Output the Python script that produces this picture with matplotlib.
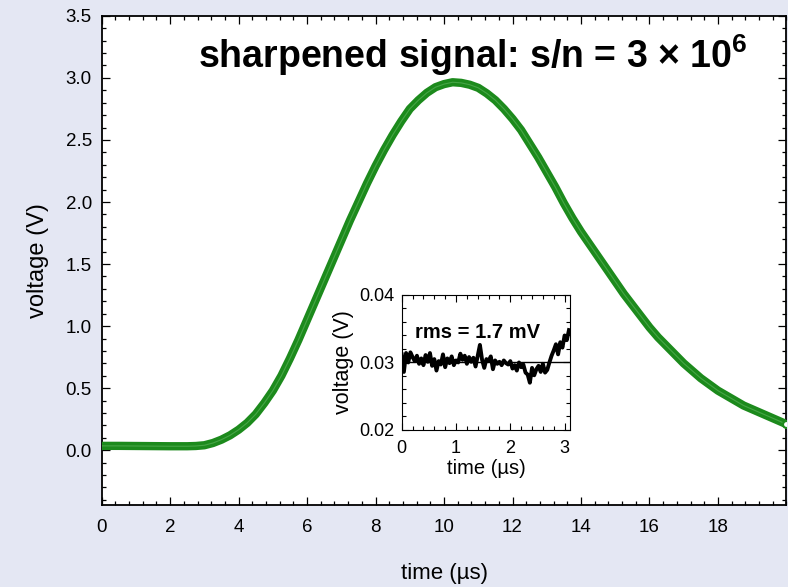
"""
Sharpened signal plot with noise inset
"""

import matplotlib
matplotlib.use('Agg')
import matplotlib.pyplot as plt
from matplotlib.ticker import MultipleLocator

plt.rcParams['font.family'] = ['Liberation Sans', 'DejaVu Sans']
plt.rcParams['mathtext.fontset'] = 'custom'
plt.rcParams['mathtext.rm'] = 'Liberation Sans:bold'

# ---- data ----
time_us = [0.0, 0.5, 1.0, 1.5, 2.0, 2.5, 2.75, 3.0, 3.25, 3.5, 3.75,
           4.0, 4.25, 4.5, 4.75, 5.0, 5.25, 5.5, 5.75, 6.0, 6.25,
           6.5, 6.75, 7.0, 7.25, 7.5, 7.75, 8.0, 8.25, 8.5, 8.75,
           9.0, 9.25, 9.5, 9.75, 10.0, 10.25, 10.5, 10.75, 11.0, 11.25,
           11.5, 11.75, 12.0, 12.25, 12.5, 12.75, 13.0, 13.25, 13.5, 13.75,
           14.0, 14.25, 14.5, 14.75, 15.0, 15.25, 15.5, 15.75, 16.0, 16.25,
           16.5, 16.75, 17.0, 17.25, 17.5, 17.75, 18.0, 18.25, 18.5, 18.75,
           19.0, 19.25, 19.5, 19.75, 20.0]
voltage = [0.035, 0.035, 0.034, 0.033, 0.032, 0.032, 0.034, 0.040, 0.058, 0.085, 0.12,
           0.165, 0.22, 0.29, 0.38, 0.48, 0.60, 0.74, 0.89, 1.05, 1.21,
           1.37, 1.53, 1.69, 1.85, 2.00, 2.15, 2.29, 2.42, 2.54, 2.65,
           2.75, 2.82, 2.88, 2.925, 2.95, 2.965, 2.96, 2.945, 2.92, 2.875,
           2.82, 2.75, 2.67, 2.58, 2.47, 2.36, 2.24, 2.12, 1.99, 1.87,
           1.76, 1.66, 1.56, 1.46, 1.36, 1.26, 1.17, 1.08, 0.99, 0.91,
           0.84, 0.77, 0.70, 0.64, 0.58, 0.53, 0.48, 0.44, 0.40, 0.36,
           0.33, 0.30, 0.27, 0.24, 0.21]

noise_t = [0.00, 0.04, 0.08, 0.12, 0.16, 0.20, 0.24, 0.28, 0.32, 0.36,
           0.40, 0.44, 0.48, 0.52, 0.56, 0.60, 0.64, 0.68, 0.72, 0.76,
           0.80, 0.84, 0.88, 0.92, 0.96, 1.00, 1.04, 1.08, 1.12, 1.16,
           1.20, 1.24, 1.28, 1.32, 1.36, 1.40, 1.44, 1.48, 1.52, 1.56,
           1.60, 1.64, 1.68, 1.72, 1.76, 1.80, 1.84, 1.88, 1.92, 1.96,
           2.00, 2.04, 2.08, 2.12, 2.16, 2.20, 2.24, 2.28, 2.32, 2.36,
           2.40, 2.44, 2.48, 2.52, 2.56, 2.60, 2.64, 2.68, 2.72, 2.76,
           2.80, 2.84, 2.88, 2.92, 2.96, 3.00, 3.04, 3.08]
noise_v = [0.0312, 0.0286, 0.0314, 0.0300, 0.0315, 0.0308, 0.0302, 0.0310, 0.0298, 0.0306,
           0.0296, 0.0311, 0.0301, 0.0314, 0.0295, 0.0305, 0.0288, 0.0302, 0.0297, 0.0312,
           0.0293, 0.0306, 0.0299, 0.0309, 0.0296, 0.0303, 0.0300, 0.0313, 0.0304, 0.0310,
           0.0298, 0.0308, 0.0301, 0.0307, 0.0294, 0.0310, 0.0326, 0.0304, 0.0292, 0.0305,
           0.0302, 0.0309, 0.0290, 0.0303, 0.0298, 0.0301, 0.0296, 0.0303, 0.0299, 0.0297,
           0.0302, 0.0291, 0.0296, 0.0288, 0.0300, 0.0293, 0.0297, 0.0285, 0.0282, 0.0270,
           0.0292, 0.0281, 0.0290, 0.0295, 0.0286, 0.0298, 0.0285, 0.0289, 0.0300, 0.0310,
           0.0318, 0.0327, 0.0312, 0.0330, 0.0322, 0.0340, 0.0333, 0.0348]

BG = '#E4E7F3'
GREEN = '#1C8A1C'

fig = plt.figure(figsize=(7.88, 5.87), dpi=100)
fig.patch.set_facecolor(BG)

# ---- main axes ----
ax = fig.add_axes([0.129, 0.140, 0.869, 0.833])
ax.plot(time_us, voltage, color=GREEN, lw=6, solid_capstyle='round',
        solid_joinstyle='round', zorder=3)
ax.plot(time_us, voltage, color='#6FC06F', lw=0.8, alpha=0.5, zorder=4)
ax.plot(time_us[-1], voltage[-1], 'o', ms=5, mfc='white', mec=GREEN, mew=1.5, zorder=5)

ax.set_xlim(0, 20)
ax.set_ylim(-0.44, 3.5)
ax.xaxis.set_minor_locator(MultipleLocator(0.4))
ax.yaxis.set_minor_locator(MultipleLocator(0.1))
ax.set_xticks([0, 2, 4, 6, 8, 10, 12, 14, 16, 18])
ax.set_yticks([0.0, 0.5, 1.0, 1.5, 2.0, 2.5, 3.0, 3.5])
ax.set_yticklabels(['0.0', '0.5', '1.0', '1.5', '2.0', '2.5', '3.0', '3.5'])
ax.tick_params(which='both', direction='in', top=True, right=True, width=0.9)
ax.tick_params(which='major', length=6)
ax.tick_params(which='minor', length=3)
ax.tick_params(axis='x', which='major', pad=10, labelsize=13.5)
ax.tick_params(axis='y', which='major', pad=7, labelsize=13.5)
for sp in ax.spines.values():
    sp.set_linewidth(1.3)

ax.set_xlabel('time (µs)', fontsize=16, labelpad=20)
ax.set_ylabel('voltage (V)', fontsize=17, labelpad=12)

fig.text(0.251, 0.884, 'sharpened signal: s/n = 3 × 10$^{6}$',
         fontsize=27, fontweight='bold', ha='left', va='baseline')

# ---- inset ----
ins = fig.add_axes([0.5098, 0.2675, 0.2136, 0.2300])
ins.plot(noise_t, noise_v, color='black', lw=2.8, zorder=3)
ins.axhline(0.03, color='black', lw=1.0, zorder=2)
ins.set_xlim(0, 3.1)
ins.set_ylim(0.02, 0.04)
ins.set_xticks([0, 1, 2, 3])
ins.set_yticks([0.02, 0.03, 0.04])
ins.xaxis.set_minor_locator(MultipleLocator(0.2))
ins.yaxis.set_minor_locator(MultipleLocator(0.002))
ins.tick_params(which='both', direction='in', top=True, right=True, width=0.8,
                labelsize=13)
ins.tick_params(axis='x', which='major', pad=7)
ins.tick_params(axis='y', which='major', pad=5)
ins.tick_params(which='major', length=5)
ins.tick_params(which='minor', length=3)
ins.set_xlabel('time (µs)', fontsize=14.5, labelpad=2)
ins.set_ylabel('voltage (V)', fontsize=15.5, labelpad=4)
ins.text(0.08, 0.72, 'rms = 1.7 mV', transform=ins.transAxes,
         fontsize=14.5, fontweight='bold', ha='left', va='center')

fig.savefig('out.png', dpi=100, facecolor=BG)
